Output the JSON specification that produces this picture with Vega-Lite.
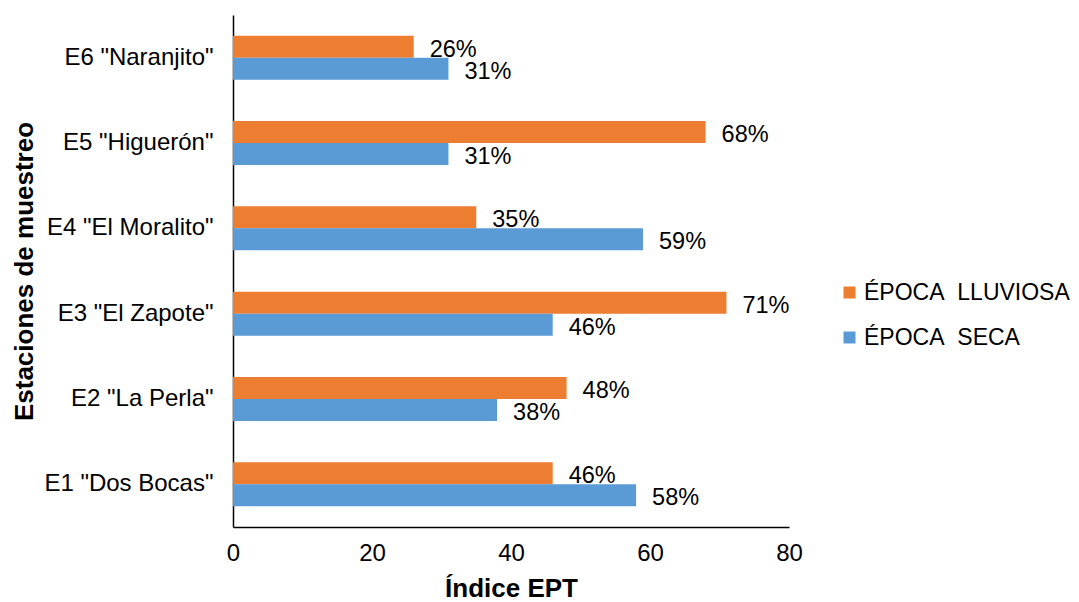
{
  "$schema": "https://vega.github.io/schema/vega-lite/v6.json",
  "width": 556,
  "height": 512,
  "autosize": "none",
  "padding": {"left": 233, "top": 15, "right": 290, "bottom": 75},
  "background": "white",
  "config": {
    "view": {"stroke": null},
    "font": "Liberation Sans",
    "axis": {"labelFont": "Liberation Sans", "titleFont": "Liberation Sans", "labelColor": "black", "titleColor": "black", "domainColor": "black", "domainWidth": 1.5, "ticks": false, "grid": false, "labelLimit": 400}
  },
  "data": {
    "values": [
      {"estacion": "E6 \"Naranjito\"", "epoca": "ÉPOCA\u00a0 LLUVIOSA", "indice": 26, "etiqueta": "26%"},
      {"estacion": "E6 \"Naranjito\"", "epoca": "ÉPOCA\u00a0 SECA", "indice": 31, "etiqueta": "31%"},
      {"estacion": "E5 \"Higuerón\"", "epoca": "ÉPOCA\u00a0 LLUVIOSA", "indice": 68, "etiqueta": "68%"},
      {"estacion": "E5 \"Higuerón\"", "epoca": "ÉPOCA\u00a0 SECA", "indice": 31, "etiqueta": "31%"},
      {"estacion": "E4 \"El Moralito\"", "epoca": "ÉPOCA\u00a0 LLUVIOSA", "indice": 35, "etiqueta": "35%"},
      {"estacion": "E4 \"El Moralito\"", "epoca": "ÉPOCA\u00a0 SECA", "indice": 59, "etiqueta": "59%"},
      {"estacion": "E3 \"El Zapote\"", "epoca": "ÉPOCA\u00a0 LLUVIOSA", "indice": 71, "etiqueta": "71%"},
      {"estacion": "E3 \"El Zapote\"", "epoca": "ÉPOCA\u00a0 SECA", "indice": 46, "etiqueta": "46%"},
      {"estacion": "E2 \"La Perla\"", "epoca": "ÉPOCA\u00a0 LLUVIOSA", "indice": 48, "etiqueta": "48%"},
      {"estacion": "E2 \"La Perla\"", "epoca": "ÉPOCA\u00a0 SECA", "indice": 38, "etiqueta": "38%"},
      {"estacion": "E1 \"Dos Bocas\"", "epoca": "ÉPOCA\u00a0 LLUVIOSA", "indice": 46, "etiqueta": "46%"},
      {"estacion": "E1 \"Dos Bocas\"", "epoca": "ÉPOCA\u00a0 SECA", "indice": 58, "etiqueta": "58%"}
    ]
  },
  "encoding": {
    "y": {
      "field": "estacion", "type": "nominal", "sort": null,
      "scale": {"paddingInner": 0.484, "paddingOuter": 0.242},
      "axis": {"title": "Estaciones de muestreo", "titleFontSize": 26, "titleFontWeight": "bold", "labelFontSize": 24, "labelPadding": 20, "titlePadding": 6}
    },
    "yOffset": {"field": "epoca", "type": "nominal", "sort": ["ÉPOCA\u00a0 LLUVIOSA", "ÉPOCA\u00a0 SECA"]},
    "x": {
      "field": "indice", "type": "quantitative",
      "scale": {"domain": [0, 80], "nice": false},
      "axis": {"title": "Índice EPT", "titleFontSize": 26, "titleFontWeight": "bold", "labelFontSize": 24, "labelPadding": 14, "values": [0, 20, 40, 60, 80], "titlePadding": 10, "labelFlush": false}
    }
  },
  "layer": [
    {
      "mark": {"type": "bar"},
      "encoding": {
        "color": {
          "field": "epoca", "type": "nominal",
          "scale": {"domain": ["ÉPOCA\u00a0 LLUVIOSA", "ÉPOCA\u00a0 SECA"], "range": ["#ED7D31", "#5B9BD5"]},
          "legend": {"title": null, "orient": "none", "legendX": 605, "legendY": 266, "symbolType": "square", "symbolSize": 144, "symbolStrokeWidth": 0, "labelFontSize": 23, "labelColor": "black", "labelFont": "Liberation Sans", "labelLimit": 400, "rowPadding": 21, "labelOffset": 3, "symbolOpacity": 1}
        }
      }
    },
    {
      "mark": {"type": "text", "align": "left", "baseline": "middle", "dx": 16, "dy": 3, "fontSize": 23.5, "color": "black"},
      "encoding": {"text": {"field": "etiqueta"}}
    }
  ]
}
